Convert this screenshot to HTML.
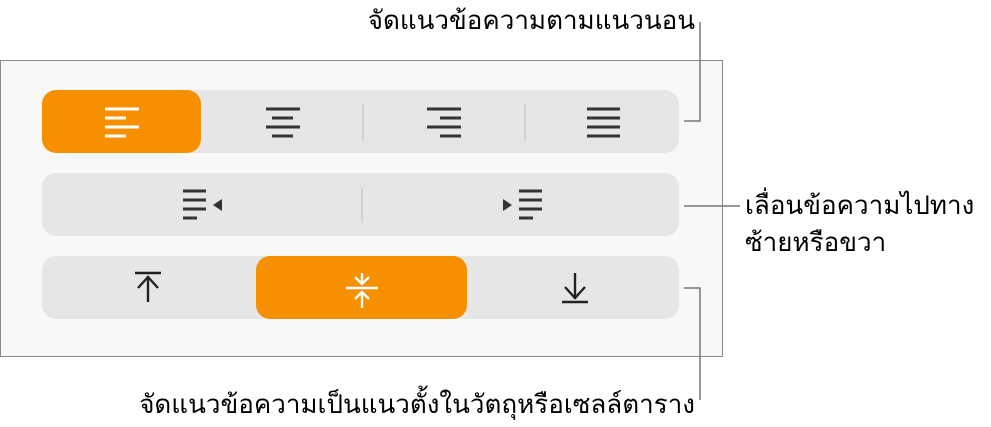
<!DOCTYPE html>
<html><head><meta charset="utf-8"><style>
body{margin:0;background:#fff;width:991px;height:422px;overflow:hidden}
text{font-family:"Liberation Sans","DejaVu Sans",sans-serif;font-size:26px;fill:#000}
</style></head><body>
<svg width="991" height="422" viewBox="0 0 991 422">
<rect x="0.5" y="60.5" width="722" height="296" fill="#f8f8f8" stroke="#8a8a8a"/>
<!-- row1 -->
<rect x="42" y="90" width="637" height="63" rx="14" fill="#e6e6e6"/>
<rect x="42" y="90" width="159" height="63" rx="14" fill="#f79000"/>
<line x1="363" y1="104" x2="363" y2="141" stroke="#ccc" stroke-width="1.5"/>
<line x1="525" y1="104" x2="525" y2="141" stroke="#ccc" stroke-width="1.5"/>
<g stroke-width="3">
<g stroke="#fff"><line x1="105" y1="109" x2="139" y2="109"/><line x1="105" y1="118" x2="126" y2="118"/><line x1="105" y1="127" x2="139" y2="127"/><line x1="105" y1="136" x2="126" y2="136"/></g>
<g stroke="#333"><line x1="266" y1="109" x2="300" y2="109"/><line x1="272" y1="118" x2="293" y2="118"/><line x1="266" y1="127" x2="300" y2="127"/><line x1="272" y1="136" x2="293" y2="136"/>
<line x1="427" y1="109" x2="461" y2="109"/><line x1="440" y1="118" x2="461" y2="118"/><line x1="427" y1="127" x2="461" y2="127"/><line x1="440" y1="136" x2="461" y2="136"/>
<line x1="587" y1="109" x2="620" y2="109"/><line x1="587" y1="118" x2="620" y2="118"/><line x1="587" y1="127" x2="620" y2="127"/><line x1="587" y1="136" x2="620" y2="136"/></g>
</g>
<!-- row2 -->
<rect x="42" y="173" width="637" height="63" rx="14" fill="#e6e6e6"/>
<line x1="362" y1="187" x2="362" y2="223" stroke="#ccc" stroke-width="1.5"/>
<g stroke="#333" stroke-width="3"><line x1="183" y1="191" x2="206" y2="191"/><line x1="183" y1="200" x2="206" y2="200"/><line x1="183" y1="209" x2="206" y2="209"/><line x1="183" y1="218" x2="197" y2="218"/>
<line x1="519" y1="191" x2="542" y2="191"/><line x1="519" y1="200" x2="542" y2="200"/><line x1="519" y1="209" x2="542" y2="209"/><line x1="519" y1="218" x2="533" y2="218"/></g>
<polygon points="222,199 213,205 222,211" fill="#333"/>
<polygon points="503,199 512,205 503,211" fill="#333"/>
<!-- row3 -->
<rect x="42" y="256" width="637" height="63" rx="14" fill="#e6e6e6"/>
<rect x="256" y="256" width="211" height="63" rx="14" fill="#f79000"/>
<g stroke="#222" stroke-width="2.4" fill="none">
<line x1="135" y1="273" x2="161" y2="273"/><line x1="148" y1="276" x2="148" y2="302"/><polyline points="138,288 148,277 158,288"/>
<line x1="562" y1="302" x2="588" y2="302"/><line x1="575" y1="273" x2="575" y2="299"/><polyline points="565,287 575,298 585,287"/>
</g>
<g stroke="#fff" stroke-width="2.4" fill="none">
<line x1="346" y1="288" x2="378" y2="288"/><line x1="362" y1="273" x2="362" y2="284"/><polyline points="355,277 362,284 369,277"/>
<line x1="362" y1="292" x2="362" y2="308"/><polyline points="355,299 362,292 369,299"/>
</g>
<!-- connectors -->
<g stroke="#777" stroke-width="1.5" fill="none">
<polyline points="684,121 700,121 700,22"/>
<line x1="684" y1="206" x2="740" y2="206"/>
<polyline points="684,288 700,288 700,400"/>
</g>
<text x="695" y="29" text-anchor="end">จัดแนวข้อความตามแนวนอน</text>
<text x="745" y="214">เลื่อนข้อความไปทาง</text>
<text x="745" y="251">ซ้ายหรือขวา</text>
<text x="695" y="413" text-anchor="end">จัดแนวข้อความเป็นแนวตั้งในวัตถุหรือเซลล์ตาราง</text>
</svg>
</body></html>
